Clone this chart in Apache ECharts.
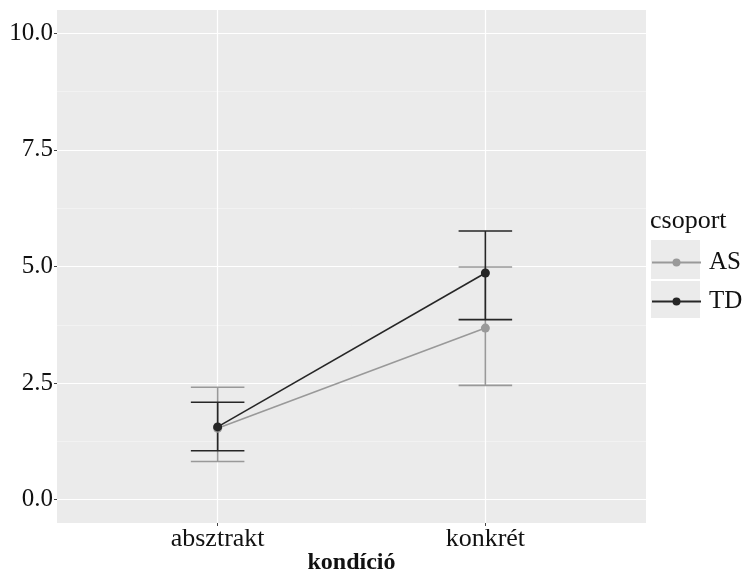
<!DOCTYPE html>
<html>
<head>
<meta charset="utf-8">
<script src="https://cdn.jsdelivr.net/npm/echarts@6/dist/echarts.min.js"></script>
<style>
html,body{margin:0;padding:0;background:#fff;}
#chart{width:744px;height:575px;}
</style>
</head>
<body>
<div id="chart"></div>
<script>
// ---- data ----
const categories = ['absztrakt', 'konkrét'];
const groups = ['AS', 'TD'];
const asMean = [1.53, 3.68];
const asLow  = [0.82, 2.45];
const asHigh = [2.41, 4.99];
const tdMean = [1.56, 4.86];
const tdLow  = [1.05, 3.86];
const tdHigh = [2.09, 5.76];
const yTicks = [0, 2.5, 5, 7.5, 10];
const yMinorTicks = [1.25, 3.75, 6.25, 8.75];
const xTitle = 'kondíció';
const legendTitle = 'csoport';

const FONT = '"Liberation Serif", "Times New Roman", serif';
const colAS = '#999999';
const colTD = '#262626';

const xPos = categories.map((c, i) => i + 1);

function errData(low, high) {
  return xPos.map((x, i) => [x, low[i], high[i]]);
}
function lineData(mean) {
  return xPos.map((x, i) => [x, mean[i]]);
}
function errRender(color) {
  return function (params, api) {
    const x = api.value(0);
    const lo = api.value(1);
    const hi = api.value(2);
    const pHi = api.coord([x, hi]);
    const pLo = api.coord([x, lo]);
    const half = api.size([0.1, 0])[0];
    const style = { stroke: color, lineWidth: 1.6, fill: null };
    return {
      type: 'group',
      children: [
        { type: 'line', shape: { x1: pHi[0], y1: pHi[1], x2: pLo[0], y2: pLo[1] }, style },
        { type: 'line', shape: { x1: pHi[0] - half, y1: pHi[1], x2: pHi[0] + half, y2: pHi[1] }, style },
        { type: 'line', shape: { x1: pLo[0] - half, y1: pLo[1], x2: pLo[0] + half, y2: pLo[1] }, style }
      ]
    };
  };
}

const chart = echarts.init(document.getElementById('chart'), null, { renderer: 'canvas' });
chart.setOption({
  animation: false,
  backgroundColor: '#ffffff',
  title: {
    text: legendTitle,
    left: 650, top: 208,
    padding: 0,
    textStyle: { fontFamily: FONT, fontSize: 26, fontWeight: 'normal', color: '#111' }
  },
  graphic: [
    { type: 'rect', left: 651, top: 240, shape: { width: 49, height: 39 }, style: { fill: '#EBEBEB' }, z: 0 },
    { type: 'rect', left: 651, top: 281, shape: { width: 49, height: 37 }, style: { fill: '#EBEBEB' }, z: 0 }
  ],
  legend: {
    data: groups,
    orient: 'vertical',
    left: 651, top: 250,
    padding: 0,
    itemWidth: 49,
    itemHeight: 10,
    itemGap: 14,
    textStyle: { fontFamily: FONT, fontSize: 25, lineHeight: 24, color: '#111', padding: [0, 0, 0, 3] },
    z: 5
  },
  grid: {
    left: 57, right: 98, top: 10, bottom: 52,
    outerBoundsMode: 'none',
    containLabel: false,
    show: true, backgroundColor: '#EBEBEB', borderWidth: 0
  },
  xAxis: {
    type: 'value',
    min: 0.4, max: 2.6,
    name: xTitle,
    nameLocation: 'middle',
    nameMoveOverlap: false,
    nameGap: 28,
    nameTextStyle: { fontFamily: FONT, fontSize: 24, fontWeight: 'bold', color: '#111' },
    axisLine: { show: false, onZero: false },
    axisTick: { show: true, customValues: xPos, length: 3, lineStyle: { color: '#444', width: 1 } },
    axisLabel: {
      customValues: xPos,
      margin: 3,
      fontFamily: FONT, fontSize: 26, color: '#111',
      formatter: v => categories[Math.round(v) - 1] || ''
    },
    splitLine: { show: true, lineStyle: { color: '#ffffff', width: 1.2 } }
  },
  yAxis: [{
    type: 'value',
    min: -0.5, max: 10.5,
    axisLine: { show: false, onZero: false },
    axisTick: { show: true, customValues: yTicks, length: 3, lineStyle: { color: '#444', width: 1 } },
    axisLabel: {
      customValues: yTicks,
      margin: 4,
      fontFamily: FONT, fontSize: 25, color: '#111',
      formatter: v => v.toFixed(1)
    },
    splitLine: { show: true, lineStyle: { color: '#ffffff', width: 1.2 } }
  }, {
    type: 'value',
    position: 'left',
    min: -0.5, max: 10.5,
    axisLine: { show: false, onZero: false },
    axisTick: { show: false, customValues: yMinorTicks },
    axisLabel: { show: false, customValues: yMinorTicks },
    splitLine: { show: true, lineStyle: { color: '#F7F7F7', width: 0.6 } }
  }],
  series: [
    {
      type: 'custom', name: 'AS_err', yAxisIndex: 0,
      renderItem: errRender(colAS),
      data: errData(asLow, asHigh),
      encode: { x: 0, y: [1, 2] }, z: 2, silent: true
    },
    {
      type: 'custom', name: 'TD_err', yAxisIndex: 0,
      renderItem: errRender(colTD),
      data: errData(tdLow, tdHigh),
      encode: { x: 0, y: [1, 2] }, z: 3, silent: true
    },
    {
      type: 'line', name: 'AS', yAxisIndex: 0,
      data: lineData(asMean),
      symbol: 'circle', symbolSize: 9,
      lineStyle: { color: colAS, width: 1.6 },
      itemStyle: { color: colAS },
      z: 4
    },
    {
      type: 'line', name: 'TD', yAxisIndex: 0,
      data: lineData(tdMean),
      symbol: 'circle', symbolSize: 9,
      lineStyle: { color: colTD, width: 1.6 },
      itemStyle: { color: colTD },
      z: 5
    }
  ]
});
</script>
</body>
</html>
